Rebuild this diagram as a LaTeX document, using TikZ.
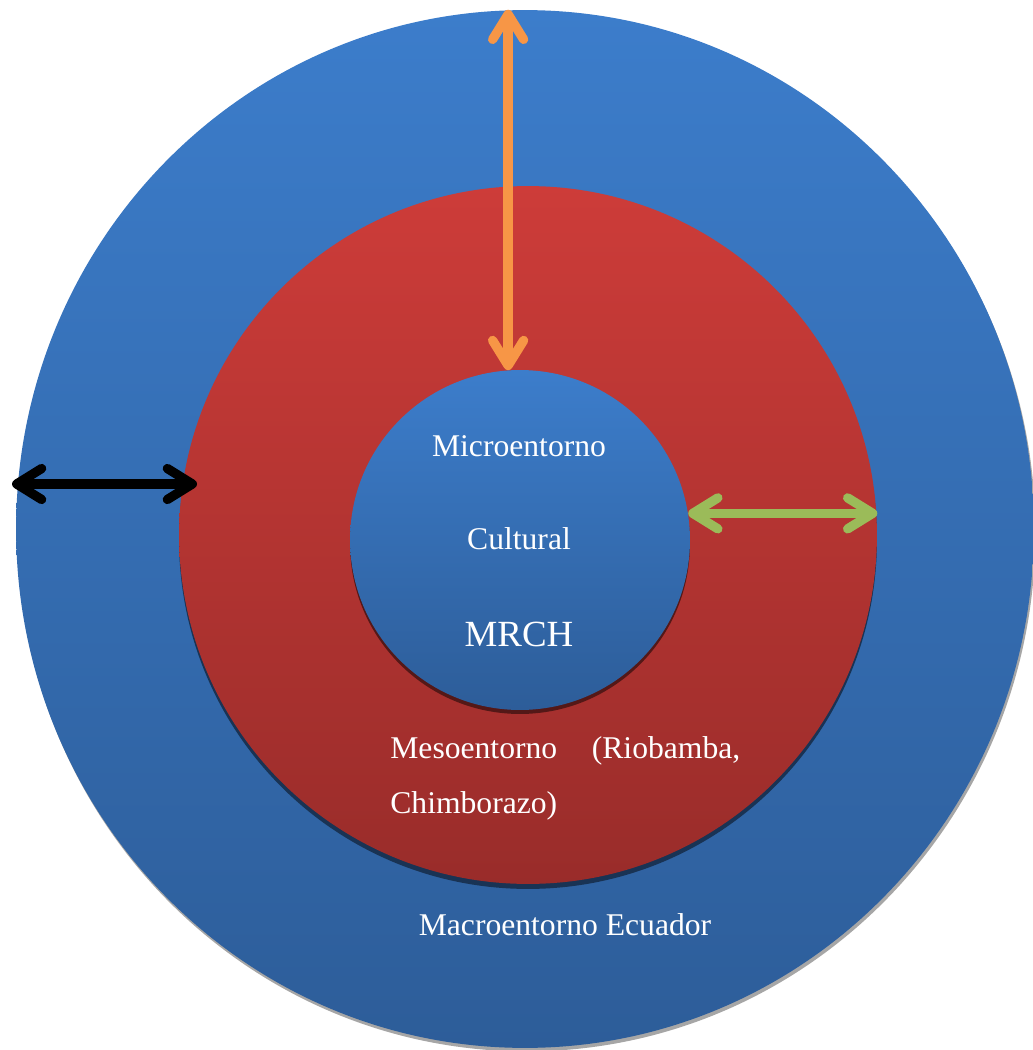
\documentclass[tikz,border=0pt]{standalone}
\usepackage{fontspec}
\setmainfont{Liberation Serif}
\usetikzlibrary{arrows.meta,shapes.geometric,shadows}
\definecolor{macroTop}{RGB}{60,125,203}
\definecolor{macroBot}{RGB}{45,93,153}
\definecolor{mesoTop}{RGB}{205,60,57}
\definecolor{mesoBot}{RGB}{153,44,42}
\definecolor{arrOrange}{RGB}{247,150,70}
\definecolor{arrGreen}{RGB}{155,187,89}

\begin{document}
\begin{tikzpicture}[x=0.02cm,y=-0.02cm,
    disk/.style={inner sep=0pt},
    lbl/.style={text=white,inner sep=0pt,font=\fontsize{18}{22}\selectfont},
    barbs/.style={{Straight Barb[length=0.5cm,width=0.62cm,round]}-{Straight Barb[length=0.5cm,width=0.62cm,round]}},
    dbl/.style={line width=5.3pt,barbs,
      preaction={draw=black,opacity=.35,barbs,transform canvas={xshift=0.04cm,yshift=-0.06cm}}}]
      \useasboundingbox (0,0) rectangle (1033,1050);

      % the three rings
      \node[disk,ellipse,minimum width=20.36cm,minimum height=20.76cm,top color=macroTop,bottom color=macroBot,
            general shadow={fill=black!35,shadow xshift=0.03cm,shadow yshift=-0.07cm}] (macro) at (525,529) {};
      \node[disk,circle,minimum size=13.96cm,top color=mesoTop,bottom color=mesoBot,
            general shadow={fill=macroBot!55!black,shadow yshift=-0.1cm}] (meso) at (528,535) {};
      \node[disk,circle,minimum size=6.8cm,top color=macroTop,bottom color=macroBot,
            general shadow={fill=mesoBot!55!black,shadow yshift=-0.08cm}] (micro) at (520,540) {};

      % labels
      \node[lbl,anchor=base] (microT) at (519,456) {Microentorno};
      \node[lbl,anchor=base] (cult) at (519,549) {Cultural};
      \node[lbl,anchor=base,font=\fontsize{21}{25}\selectfont] (mrch) at (519,646) {MRCH};
      \node[lbl,anchor=base west,text width=7cm,align=justify,font=\fontsize{18}{31.3}\selectfont] (mesoT) at (390,758) {Mesoentorno (Riobamba, Chimborazo)};
      \node[lbl,anchor=base] (macroT) at (565,935) {Macroentorno Ecuador};

      % arrows
      \coordinate (bl) at (12,484);
      \coordinate (br) at (197,484);
      \draw [dbl,black] (bl) -- (br);
      \draw [dbl,arrOrange] (micro.94 |- macro.north) -- (micro.94);
      \draw [dbl,arrGreen] (micro.9) -- (micro.9 -| meso.east);
\end{tikzpicture}
\end{document}
